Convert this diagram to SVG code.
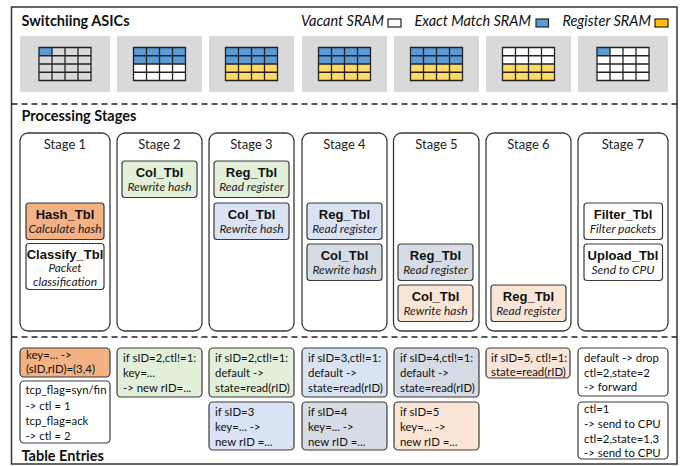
<svg xmlns="http://www.w3.org/2000/svg" xmlns:xlink="http://www.w3.org/1999/xlink" width="686" height="466" viewBox="0 0 686 466">
<style>
.h{font-family:Lato,"Liberation Sans",sans-serif;font-weight:bold;font-size:14.5px;fill:#111}
.lg{font-family:Lato,"Liberation Sans",sans-serif;font-style:italic;font-size:14.5px;fill:#111;text-anchor:end}
.st{font-family:Lato,"Liberation Sans",sans-serif;font-size:13px;fill:#222;text-anchor:middle}
.nm{font-family:"Liberation Sans",Arial,sans-serif;font-weight:bold;font-size:13px;fill:#111;text-anchor:middle}
.sb{font-family:Lato,"Liberation Sans",sans-serif;font-style:italic;font-size:12px;fill:#222;text-anchor:middle}
.en{font-family:Lato,"Liberation Sans",sans-serif;font-size:11.4px;fill:#111}
.stage{fill:#fff;stroke:#3a3a3a;stroke-width:1.3}
.tb{stroke:#3a3a3a;stroke-width:1.2}
.asic{fill:#D9D9D9}
.dash{stroke:#222;stroke-width:1.5;stroke-dasharray:6 4;fill:none}
</style>
<defs>
<path id="gl" d="M0,0H52V33H0Z M13,0V33 M26,0V33 M39,0V33 M0,8.25H52 M0,16.5H52 M0,24.75H52" fill="none" stroke="#222" stroke-width="1.3"/>
</defs>
<rect x="0" y="0" width="686" height="466" fill="#fff"/>
<rect x="11.5" y="7" width="665.5" height="457" fill="none" stroke="#333" stroke-width="1.5"/>
<g id="connectors">
<line class="dash" x1="11.5" y1="104" x2="677" y2="104"/>
<line class="dash" x1="11.5" y1="337" x2="677" y2="337"/>
</g>
<text class="h" x="21.5" y="26">Switchiing ASICs</text>
<text class="h" x="21.5" y="121">Processing Stages</text>
<text class="h" x="21.5" y="461">Table Entries</text>
<g id="legend">
<text class="lg" x="384" y="26">Vacant SRAM</text>
<rect x="388" y="19" width="13" height="8" fill="#fff" stroke="#222" stroke-width="1.2"/>
<text class="lg" x="531" y="26">Exact Match SRAM</text>
<rect x="536" y="19" width="12.5" height="8" fill="#5B9BD5" stroke="#222" stroke-width="1.2"/>
<text class="lg" x="651" y="26">Register SRAM</text>
<rect x="655" y="19" width="13" height="8" fill="#FFC000" stroke="#222" stroke-width="1.2"/>
</g>
<g id="asic1"><rect class="asic" x="20" y="36" width="90" height="56"/>
<g transform="translate(39,47.5)"><rect width="52" height="33" fill="#D9D9D9"/><rect width="13" height="8.25" fill="#5B9BD5"/><use xlink:href="#gl"/></g></g>
<g id="asic2"><rect class="asic" x="117" y="36" width="85" height="56"/>
<g transform="translate(133.5,47.5)"><rect width="52" height="33" fill="#fff"/><rect width="52" height="16.5" fill="#5B9BD5"/><use xlink:href="#gl"/></g></g>
<g id="asic3"><rect class="asic" x="209" y="36" width="85" height="56"/>
<g transform="translate(225.5,47.5)"><rect width="52" height="33" fill="#FFD966"/><rect width="52" height="16.5" fill="#5B9BD5"/><use xlink:href="#gl"/></g></g>
<g id="asic4"><rect class="asic" x="302" y="36" width="85" height="56"/>
<g transform="translate(318.5,47.5)"><rect width="52" height="33" fill="#FFD966"/><rect width="52" height="16.5" fill="#5B9BD5"/><use xlink:href="#gl"/></g></g>
<g id="asic5"><rect class="asic" x="394" y="36" width="85" height="56"/>
<g transform="translate(410.5,47.5)"><rect width="52" height="33" fill="#FFD966"/><rect width="52" height="16.5" fill="#5B9BD5"/><use xlink:href="#gl"/></g></g>
<g id="asic6"><rect class="asic" x="486" y="36" width="85" height="56"/>
<g transform="translate(502.5,47.5)"><rect width="52" height="33" fill="#FFD966"/><rect width="52" height="16.5" fill="#fff"/><use xlink:href="#gl"/></g></g>
<g id="asic7"><rect class="asic" x="578" y="36" width="90" height="56"/>
<g transform="translate(597,47.5)"><rect width="52" height="33" fill="#fff"/><rect width="13" height="8.25" fill="#5B9BD5"/><use xlink:href="#gl"/></g></g>

<g id="stage1"><rect class="stage" x="20" y="133" width="90" height="198" rx="8"/><text class="st" x="65" y="149">Stage 1</text>
<rect class="tb" x="26" y="203" width="78" height="36.5" rx="3" fill="#F4B183"/><text class="nm" x="65" y="219">Hash_Tbl</text><text class="sb" x="65" y="233">Calculate hash</text>
<rect class="tb" x="26" y="243.5" width="78" height="46" rx="3" fill="#fff"/><text class="nm" x="65" y="258.5">Classify_Tbl</text><text class="sb" x="65" y="272">Packet</text><text class="sb" x="65" y="286">classification</text></g>
<g id="stage2"><rect class="stage" x="117" y="133" width="85" height="198" rx="8"/><text class="st" x="159.5" y="149">Stage 2</text>
<rect class="tb" x="122" y="161" width="75" height="36.5" rx="3" fill="#E2F0D9"/><text class="nm" x="159.5" y="177">Col_Tbl</text><text class="sb" x="159.5" y="191">Rewrite hash</text></g>
<g id="stage3"><rect class="stage" x="209" y="133" width="85" height="198" rx="8"/><text class="st" x="251.5" y="149">Stage 3</text>
<rect class="tb" x="214" y="161" width="75" height="36.5" rx="3" fill="#E2F0D9"/><text class="nm" x="251.5" y="177">Reg_Tbl</text><text class="sb" x="251.5" y="191">Read register</text>
<rect class="tb" x="214" y="203" width="75" height="36.5" rx="3" fill="#DAE3F3"/><text class="nm" x="251.5" y="219">Col_Tbl</text><text class="sb" x="251.5" y="233">Rewrite hash</text></g>
<g id="stage4"><rect class="stage" x="302" y="133" width="85" height="198" rx="8"/><text class="st" x="344.5" y="149">Stage 4</text>
<rect class="tb" x="307" y="203" width="75" height="36.5" rx="3" fill="#DAE3F3"/><text class="nm" x="344.5" y="219">Reg_Tbl</text><text class="sb" x="344.5" y="233">Read register</text>
<rect class="tb" x="307" y="244" width="75" height="36.5" rx="3" fill="#D6DCE5"/><text class="nm" x="344.5" y="260">Col_Tbl</text><text class="sb" x="344.5" y="274">Rewrite hash</text></g>
<g id="stage5"><rect class="stage" x="393.5" y="133" width="85.5" height="198" rx="8"/><text class="st" x="436.5" y="149">Stage 5</text>
<rect class="tb" x="398" y="244" width="75" height="36.5" rx="3" fill="#D6DCE5"/><text class="nm" x="435.5" y="260">Reg_Tbl</text><text class="sb" x="435.5" y="274">Read register</text>
<rect class="tb" x="398" y="285" width="75" height="36.5" rx="3" fill="#FBE5D6"/><text class="nm" x="435.5" y="301">Col_Tbl</text><text class="sb" x="435.5" y="315">Rewrite hash</text></g>
<g id="stage6"><rect class="stage" x="486" y="133" width="85" height="198" rx="8"/><text class="st" x="528.5" y="149">Stage 6</text>
<rect class="tb" x="491" y="285" width="75" height="36.5" rx="3" fill="#FBE5D6"/><text class="nm" x="528.5" y="301">Reg_Tbl</text><text class="sb" x="528.5" y="315">Read register</text></g>
<g id="stage7"><rect class="stage" x="578" y="133" width="90" height="198" rx="8"/><text class="st" x="623" y="149">Stage 7</text>
<rect class="tb" x="584" y="203" width="78.5" height="36.5" rx="3" fill="#fff"/><text class="nm" x="623" y="219">Filter_Tbl</text><text class="sb" x="623" y="233">Filter packets</text>
<rect class="tb" x="584" y="244" width="78.5" height="36.5" rx="3" fill="#fff"/><text class="nm" x="623" y="260">Upload_Tbl</text><text class="sb" x="623" y="274">Send to CPU</text></g>

<g id="entries1">
<rect class="tb" x="20" y="348" width="90" height="29" rx="4" fill="#F4B183"/>
<text class="en" x="26" y="359">key=...  -&gt;</text><text class="en" x="26" y="372.5">(sID,rID)=(3,4)</text>
<rect class="tb" x="20" y="381" width="90" height="62" rx="4" fill="#fff"/>
<text class="en" x="25.5" y="394">tcp_flag=syn/fin</text><text class="en" x="25.5" y="409.5">-&gt; ctl = 1</text><text class="en" x="25.5" y="424.5">tcp_flag=ack</text><text class="en" x="25.5" y="439.5">-&gt; ctl = 2</text>
</g>
<g id="entries2">
<rect class="tb" x="117" y="348" width="85" height="49" rx="4" fill="#E2F0D9"/>
<text class="en" x="123" y="362">if sID=2,ctl!=1:</text><text class="en" x="123" y="377">key=...</text><text class="en" x="123" y="392">-&gt; new rID=...</text>
</g>
<g id="entries3">
<rect class="tb" x="209" y="348" width="85" height="49" rx="4" fill="#E2F0D9"/>
<text class="en" x="215" y="362">if sID=2,ctl!=1:</text><text class="en" x="215" y="377">default -&gt;</text><text class="en" x="215" y="392">state=read(rID)</text>
<rect class="tb" x="209" y="402" width="85" height="48" rx="4" fill="#DAE3F3"/>
<text class="en" x="215" y="416">if sID=3</text><text class="en" x="215" y="431">key=... -&gt;</text><text class="en" x="215" y="446">new rID =...</text>
</g>
<g id="entries4">
<rect class="tb" x="302" y="348" width="85" height="49" rx="4" fill="#DAE3F3"/>
<text class="en" x="308" y="362">if sID=3,ctl!=1:</text><text class="en" x="308" y="377">default -&gt;</text><text class="en" x="308" y="392">state=read(rID)</text>
<rect class="tb" x="302" y="402" width="85" height="48" rx="4" fill="#D6DCE5"/>
<text class="en" x="308" y="416">if sID=4</text><text class="en" x="308" y="431">key=... -&gt;</text><text class="en" x="308" y="446">new rID =...</text>
</g>
<g id="entries5">
<rect class="tb" x="394" y="348" width="85" height="49" rx="4" fill="#D6DCE5"/>
<text class="en" x="400" y="362">if sID=4,ctl!=1:</text><text class="en" x="400" y="377">default -&gt;</text><text class="en" x="400" y="392">state=read(rID)</text>
<rect class="tb" x="394" y="402" width="85" height="48" rx="4" fill="#FBE5D6"/>
<text class="en" x="400" y="416">if sID=5</text><text class="en" x="400" y="431">key=... -&gt;</text><text class="en" x="400" y="446">new rID =...</text>
</g>
<g id="entries6">
<rect class="tb" x="486" y="348" width="84" height="30" rx="4" fill="#FBE5D6"/>
<text class="en" x="491" y="362">if sID=5, ctl!=1:</text><text class="en" x="491" y="376">state=read(rID)</text>
</g>
<g id="entries7">
<rect class="tb" x="578" y="348" width="90" height="48" rx="4" fill="#fff"/>
<text class="en" x="584" y="362">default -&gt; drop</text><text class="en" x="584" y="377">ctl=2,state=2</text><text class="en" x="584" y="391">-&gt; forward</text>
<rect class="tb" x="578" y="402" width="90" height="57" rx="4" fill="#fff"/>
<text class="en" x="584" y="413">ctl=1</text><text class="en" x="584" y="428">-&gt; send to CPU</text><text class="en" x="584" y="442.5">ctl=2,state=1,3</text><text class="en" x="584" y="457">-&gt; send to CPU</text>
</g>
</svg>
